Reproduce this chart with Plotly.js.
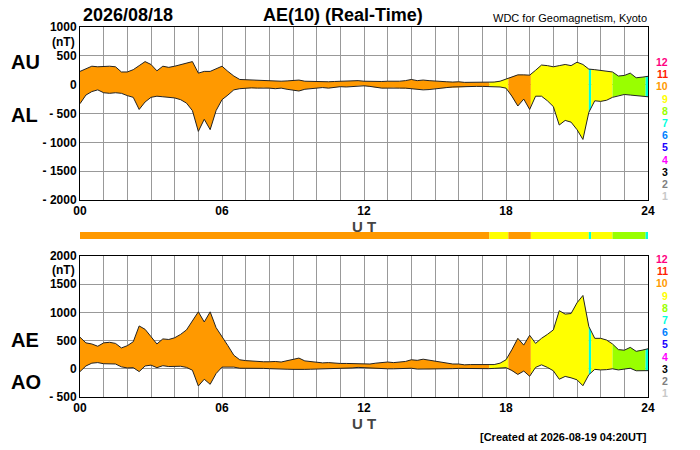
<!DOCTYPE html>
<html>
<head>
<script src="https://cdn.plot.ly/plotly-3.0.1.min.js"></script>
<style>body{margin:0}#plot{width:700px;height:450px}</style>
</head>
<body>
<div id="plot"></div>
<script>
// 15-minute samples, 00:00 .. 24:00 UT
const AU = [230, 280, 320, 310, 320, 320, 310, 220, 220, 260, 330, 400, 350, 240, 320, 300,
    320, 350, 370, 400, 200, 230, 230, 280, 320, 230, 150, 90, 85, 80, 75, 70,
    65, 60, 60, 65, 70, 80, 60, 55, 50, 55, 50, 55, 60, 55, 60, 70, 60,
    55, 50, 55, 60, 55, 60, 70, 90, 70, 80, 70, 60, 55, 50, 45, 50, 40,
    40, 45, 40, 40, 45, 60, 100, 140, 170, 170, 165, 250, 340, 330, 310, 330,
    350, 330, 390, 350, 270, 260, 250, 240, 220, 150, 160, 200, 120, 130, 145];
const AL = [-330, -180, -120, -90, -140, -150, -140, -150, -190, -220, -430, -300, -220, -200, -210, -220,
    -230, -260, -320, -450, -810, -600, -780, -450, -260, -180, -90, -70, -60, -55, -60, -55,
    -60, -70, -60, -80, -90, -110, -80, -70, -60, -50, -60, -45, -35, -40, -30, -20, -20,
    -30, -50, -60, -60, -55, -60, -60, -70, -80, -90, -85, -70, -60, -50, -40, -35, -30,
    -35, -30, -30, -35, -30, -40, -60, -200, -370, -250, -430, -200, -200, -280, -380, -700,
    -620, -650, -780, -950, -480, -280, -290, -270, -220, -190, -170, -180, -190, -200, -210];
const hours = AU.map((_, i) => i / 4);
const AE = AU.map((u, i) => u - AL[i]);
const AO = AU.map((u, i) => (u + AL[i]) / 2);

// number of stations used, by time interval
const segStart = [0, 17.3, 18.1, 19.05, 21.5, 21.6, 22.5, 23.9];
const segEnd = [17.3, 18.1, 19.05, 21.5, 21.6, 22.5, 23.9, 24];
const segCount = [10, 9, 10, 9, 7, 9, 8, 7];

const countLabels = ['12', '11', '10', '9', '8', '7', '6', '5', '4', '3', '2', '1'];
const countColors = ['#ff0080', '#ff2000', '#ff9900', '#ffff00', '#99ff00', '#00ffdd',
    '#0080ff', '#2000ff', '#ff00ff', '#000000', '#808080', '#c8c8c8'];
const colorFor = n => countColors[12 - n];

function valueAt(ys, t) {
    const i = Math.min(Math.floor(t * 4), ys.length - 2);
    const f = t * 4 - i;
    return ys[i] + (ys[i + 1] - ys[i]) * f;
}

function band(hi, lo, a, b, color, xa, ya) {
    const xs = [a], up = [valueAt(hi, a)], dn = [valueAt(lo, a)];
    hours.forEach((h, i) => { if (h > a && h < b) { xs.push(h); up.push(hi[i]); dn.push(lo[i]); } });
    xs.push(b); up.push(valueAt(hi, b)); dn.push(valueAt(lo, b));
    return {
        x: xs.concat(xs.slice().reverse()), y: up.concat(dn.slice().reverse()),
        xaxis: xa, yaxis: ya, type: 'scatter', mode: 'lines', fill: 'toself',
        fillcolor: color, line: {width: 0}, hoverinfo: 'skip', showlegend: false
    };
}

const traces = [];
segStart.forEach((a, k) => {
    const c = colorFor(segCount[k]);
    traces.push(band(AU, AL, a, segEnd[k], c, 'x', 'y'));
    traces.push(band(AE, AO, a, segEnd[k], c, 'x2', 'y2'));
});
[[AU, 'x', 'y'], [AL, 'x', 'y'], [AE, 'x2', 'y2'], [AO, 'x2', 'y2']].forEach(([ys, xa, ya]) => {
    traces.push({x: hours, y: ys, xaxis: xa, yaxis: ya, type: 'scatter', mode: 'lines',
        line: {color: '#222', width: 1}, showlegend: false});
});

const bold = {family: 'Liberation Sans, Arial', size: 12, color: '#000'};
const xTicks = Array.from({length: 25}, (_, i) => i);
const xText = xTicks.map(i => i % 6 === 0 ? '<b>' + String(i).padStart(2, '0') + '</b>' : '');
const xAxis = () => ({
    domain: [80 / 700, 648 / 700], range: [0, 24], tickvals: xTicks, ticktext: xText,
    showgrid: true, gridcolor: '#999', gridwidth: 1, zeroline: false,
    showline: true, linecolor: '#000', mirror: true, ticks: '', tickfont: bold,
    title: {text: '<b>U T</b>', font: {family: 'Liberation Sans, Arial', size: 15}, standoff: 0}
});
const tickLab = v => '<b>' + (v < 0 ? '- ' + (-v) : String(v)) + '</b>';
const topTicks = [1000, 500, 0, -500, -1000, -1500, -2000];
const botTicks = [2000, 1500, 1000, 500, 0, -500];

const shapes = segStart.map((a, k) => ({
    type: 'rect', xref: 'x', yref: 'paper', x0: a, x1: segEnd[k],
    y0: 1 - 239 / 450, y1: 1 - 232 / 450, fillcolor: colorFor(segCount[k]), line: {width: 0}
}));

const ann = [];
const txt = (x, y, text, size, anchor, color) => ann.push({
    xref: 'paper', yref: 'paper', x: x / 700, y: 1 - y / 450, text: text, showarrow: false,
    xanchor: anchor || 'left', yanchor: 'middle', borderpad: 0,
    font: {family: 'Liberation Sans, Arial', size: size, color: color || '#000'}
});
txt(82, 15, '<b>2026/08/18</b>', 18);
txt(262, 15, '<b>AE(10) (Real-Time)</b>', 18);
txt(648, 18, 'WDC for Geomagnetism, Kyoto', 11, 'right');
txt(10, 62, '<b>AU</b>', 20);
txt(10, 115, '<b>AL</b>', 20);
txt(10, 340, '<b>AE</b>', 20);
txt(10, 382, '<b>AO</b>', 20);
txt(76, 42, '<b>(nT)</b>', 12, 'right');
txt(76, 270, '<b>(nT)</b>', 12, 'right');
txt(648, 437, '<b>[Created at 2026-08-19 04:20UT]</b>', 11, 'right');
countLabels.forEach((l, i) => {
    txt(669, 62 + i * 12.2, '<b>' + l + '</b>', 10.5, 'right', countColors[i]);
    txt(669, 259 + i * 12.2, '<b>' + l + '</b>', 10.5, 'right', countColors[i]);
});

const layout = {
    width: 700, height: 450, margin: {l: 0, r: 0, t: 0, b: 0},
    paper_bgcolor: 'white', plot_bgcolor: 'white', showlegend: false,
    xaxis: Object.assign(xAxis(), {anchor: 'y'}),
    xaxis2: Object.assign(xAxis(), {anchor: 'y2'}),
    yaxis: {domain: [1 - 200 / 450, 1 - 27 / 450], range: [-2000, 1000], tickvals: topTicks,
        ticktext: topTicks.map(tickLab), tickfont: bold, showgrid: true, gridcolor: '#999',
        zeroline: false, showline: true, linecolor: '#000', mirror: true, anchor: 'x'},
    yaxis2: {domain: [1 - 397 / 450, 1 - 256 / 450], range: [-500, 2000], tickvals: botTicks,
        ticktext: botTicks.map(tickLab), tickfont: bold, showgrid: true, gridcolor: '#999',
        zeroline: false, showline: true, linecolor: '#000', mirror: true, anchor: 'x2'},
    shapes: shapes, annotations: ann
};
Plotly.newPlot('plot', traces, layout, {staticPlot: true});
</script>
</body>
</html>
